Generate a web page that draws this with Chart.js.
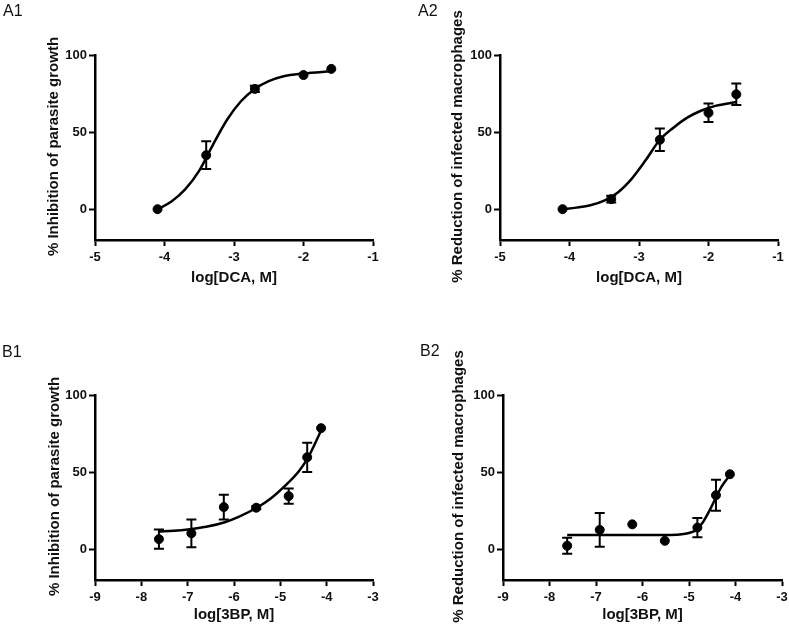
<!DOCTYPE html>
<html>
<head>
<meta charset="utf-8">
<script src="https://cdn.jsdelivr.net/npm/chart.js@4.4.0/dist/chart.umd.min.js"></script>
<style>
  body { margin: 0; background: #fff; width: 789px; height: 627px; position: relative; overflow: hidden; font-family: "Liberation Sans", Arial, sans-serif; }
  .panel { position: absolute; }
  .lbl { position: absolute; font-size: 16px; color: #111; }
</style>
</head>
<body>
<div class="panel" style="left:0;top:0"><canvas id="a1" width="395" height="310"></canvas></div>
<div class="panel" style="left:395px;top:0"><canvas id="a2" width="394" height="310"></canvas></div>
<div class="panel" style="left:0;top:310px"><canvas id="b1" width="395" height="317"></canvas></div>
<div class="panel" style="left:395px;top:310px"><canvas id="b2" width="394" height="317"></canvas></div>
<div class="lbl" style="left:3px;top:2px">A1</div>
<div class="lbl" style="left:418px;top:2px">A2</div>
<div class="lbl" style="left:2px;top:343px">B1</div>
<div class="lbl" style="left:420px;top:342px">B2</div>
<script>
// tick labels
const yTicks = [0, 50, 100];
const xTicksDCA = [-5, -4, -3, -2, -1];
const xTicks3BP = [-9, -8, -7, -6, -5, -4, -3];

// A1: DCA, parasite growth
const a1X = [-4.1, -3.4, -2.7, -2.0, -1.6];
const a1Y = [0, 35, 78, 87, 91];
const a1Err = [0, 9, 2, 0, 0];
const a1FitX = [-4.1, -3.9, -3.7, -3.5, -3.3, -3.1, -2.9, -2.7, -2.5, -2.3, -2.0, -1.6];
const a1FitY = [0, 5, 13, 25, 42, 58, 70, 78, 83, 86, 88, 89.5];

// A2: DCA, infected macrophages
const a2X = [-4.1, -3.4, -2.7, -2.0, -1.6];
const a2Y = [0, 6.5, 45, 62.5, 74.5];
const a2Err = [0, 2.2, 7.3, 6, 7];
const a2FitX = [-4.1, -3.9, -3.7, -3.5, -3.3, -3.1, -2.9, -2.7, -2.5, -2.3, -2.1, -1.9, -1.6];
const a2FitY = [0, 1, 2.5, 5.5, 11, 20, 32, 45, 53, 59.5, 64, 67, 69.5];

// B1: 3BP, parasite growth
const b1X = [-7.62, -6.92, -6.22, -5.52, -4.82, -4.42, -4.12];
const b1Y = [6.5, 10.3, 27.3, 26.9, 34.4, 59.6, 78.5];
const b1Err = [6.3, 9, 8, 1, 5, 9.5, 0];
const b1FitX = [-7.62, -7.3, -7.0, -6.6, -6.2, -5.9, -5.5, -5.2, -4.9, -4.6, -4.4, -4.12];
const b1FitY = [11.5, 12, 12.8, 14.5, 17.5, 21, 27, 33, 41, 50.5, 59.5, 77];

// B2: 3BP, infected macrophages
const b2X = [-7.62, -6.92, -6.22, -5.52, -4.82, -4.42, -4.12];
const b2Y = [2.2, 12.5, 16.1, 5.4, 14, 35, 48.6];
const b2Err = [5.2, 11, 0, 0, 6.2, 10, 0];
const b2FitX = [-7.62, -6.5, -5.5, -5.2, -5.0, -4.85, -4.7, -4.55, -4.42, -4.3, -4.12];
const b2FitY = [9.2, 9.2, 9.2, 9.5, 10.5, 12.5, 17.5, 25.5, 33.5, 40.5, 48];

const FONT = '"Liberation Sans", Arial, sans-serif';
const INK = '#111';

const zip = (xs, ys) => xs.map((x, i) => ({ x: x, y: ys[i] }));

// error bars + axis titles
const extras = {
  id: 'extras',
  afterDatasetsDraw(chart, args, opts) {
    const c = chart.ctx;
    const xs = chart.scales.x, ys = chart.scales.y;
    c.save();
    c.strokeStyle = '#000';
    c.lineWidth = 2;
    opts.err.forEach((e, i) => {
      if (!e) return;
      const px = xs.getPixelForValue(opts.px[i]);
      const lo = ys.getPixelForValue(opts.py[i] - e);
      const hi = ys.getPixelForValue(opts.py[i] + e);
      c.beginPath();
      c.moveTo(px, lo); c.lineTo(px, hi);
      c.moveTo(px - 5, lo); c.lineTo(px + 5, lo);
      c.moveTo(px - 5, hi); c.lineTo(px + 5, hi);
      c.stroke();
    });
    c.restore();
  },
  afterDraw(chart, args, opts) {
    const c = chart.ctx;
    const a = chart.chartArea;
    c.save();
    c.fillStyle = INK;
    c.font = 'bold 15px ' + FONT;
    c.textAlign = 'center';
    c.textBaseline = 'middle';
    c.fillText(opts.xTitle, (a.left + a.right) / 2, opts.xTitleY);
    c.translate(opts.yTitleX, (a.top + a.bottom) / 2 - 1);
    c.rotate(-Math.PI / 2);
    c.fillText(opts.yTitle, 0, 0);
    c.restore();
  }
};

function panel(id, o) {
  const tickFont = { family: FONT, size: 13, weight: 'bold' };
  const grid = { drawOnChartArea: false, drawTicks: true, tickLength: 6, tickWidth: 2, tickColor: '#000', color: '#000' };
  new Chart(document.getElementById(id), {
    type: 'scatter',
    data: {
      datasets: [
        {
          data: zip(o.px, o.py),
          backgroundColor: '#000',
          borderColor: '#000',
          pointRadius: 4.5,
          pointHoverRadius: 4.5,
          clip: false,
        },
        {
          type: 'line',
          data: zip(o.fx, o.fy),
          borderColor: '#000',
          borderWidth: 2.5,
          pointRadius: 0,
          fill: false,
          cubicInterpolationMode: 'monotone',
          clip: false,
        },
      ],
    },
    options: {
      responsive: false,
      animation: false,
      layout: { padding: { left: 0, right: o.padRight, top: o.padTop, bottom: 0 } },
      scales: {
        x: {
          type: 'linear',
          min: o.xTicks[0],
          max: o.xTicks[o.xTicks.length - 1],
          afterBuildTicks: (s) => { s.ticks = o.xTicks.map((v) => ({ value: v })); },
          afterFit: (s) => { s.height = o.xHeight; s.paddingLeft = 0; s.paddingRight = 0; },
          ticks: { font: tickFont, color: INK, padding: 4 },
          grid: grid,
          border: { color: '#000', width: 2.5 },
        },
        y: {
          type: 'linear',
          min: -20,
          max: 100,
          afterBuildTicks: (s) => { s.ticks = yTicks.map((v) => ({ value: v })); },
          afterFit: (s) => { s.width = o.yWidth; s.paddingTop = 0; s.paddingBottom = 0; },
          ticks: { font: tickFont, color: INK, padding: 2 },
          grid: grid,
          border: { color: '#000', width: 2.5 },
        },
      },
      plugins: {
        legend: { display: false },
        title: { display: false },
        tooltip: { enabled: false },
        extras: {
          px: o.px, py: o.py, err: o.err,
          xTitle: o.xTitle, yTitle: o.yTitle,
          xTitleY: o.xTitleY, yTitleX: o.yTitleX,
        },
      },
    },
    plugins: [extras],
  });
}

panel('a1', {
  px: a1X, py: a1Y, err: a1Err, fx: a1FitX, fy: a1FitY, xTicks: xTicksDCA,
  xTitle: 'log[DCA, M]', yTitle: '% Inhibition of parasite growth',
  yWidth: 95, padRight: 22, padTop: 55, xHeight: 70, yTitleX: 54, xTitleY: 278,
});
panel('a2', {
  px: a2X, py: a2Y, err: a2Err, fx: a2FitX, fy: a2FitY, xTicks: xTicksDCA,
  xTitle: 'log[DCA, M]', yTitle: '% Reduction of infected macrophages',
  yWidth: 105, padRight: 11, padTop: 55, xHeight: 70, yTitleX: 63, xTitleY: 278,
});
panel('b1', {
  px: b1X, py: b1Y, err: b1Err, fx: b1FitX, fy: b1FitY, xTicks: xTicks3BP,
  xTitle: 'log[3BP, M]', yTitle: '% Inhibition of parasite growth',
  yWidth: 95, padRight: 22, padTop: 85, xHeight: 47, yTitleX: 55, xTitleY: 305,
});
panel('b2', {
  px: b2X, py: b2Y, err: b2Err, fx: b2FitX, fy: b2FitY, xTicks: xTicks3BP,
  xTitle: 'log[3BP, M]', yTitle: '% Reduction of infected macrophages',
  yWidth: 108, padRight: 7, padTop: 85, xHeight: 47, yTitleX: 64, xTitleY: 305,
});
</script>
</body>
</html>
